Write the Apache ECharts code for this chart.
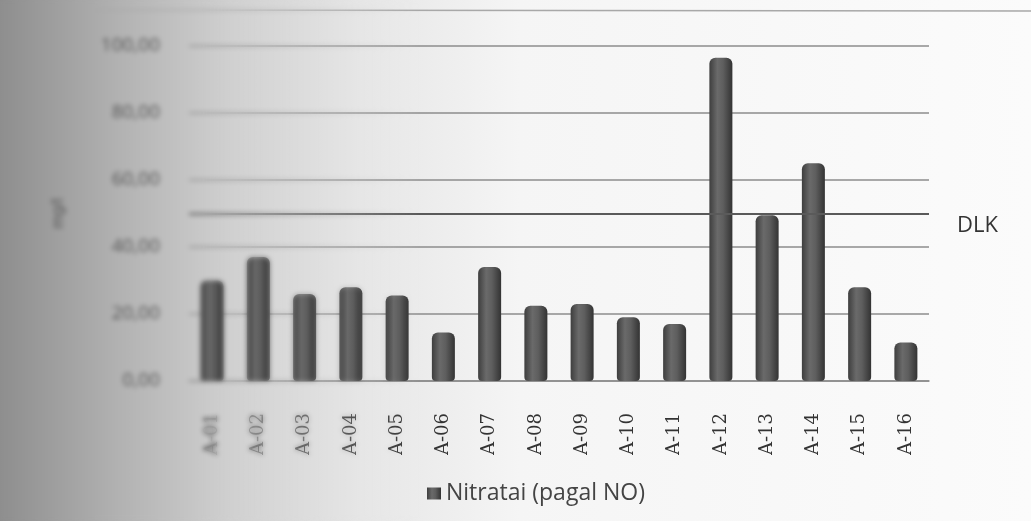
<!DOCTYPE html>
<html>
<head>
<meta charset="utf-8">
<script src="https://cdn.jsdelivr.net/npm/echarts@6/dist/echarts.min.js"></script>
<style>
  html, body { margin: 0; padding: 0; width: 1031px; height: 521px; overflow: hidden; }
  body { background: linear-gradient(to right, #8e8e8e 0px, #b2b2b2 120px, #d0d0d0 230px, #e6e6e6 360px, #f5f5f5 520px, #fbfbfb 1031px); }
  #chart { position: absolute; left: 0; top: 0; width: 1031px; height: 521px; }
  /* soft focus toward the left edge of the sheet */
  #soft {
    position: absolute; left: 0; top: 0; width: 420px; height: 521px; pointer-events: none;
    backdrop-filter: blur(2.6px); -webkit-backdrop-filter: blur(2.6px);
    -webkit-mask-image: linear-gradient(to right, #000 0px, #000 200px, rgba(0,0,0,0.5) 300px, transparent 420px);
    mask-image: linear-gradient(to right, #000 0px, #000 200px, rgba(0,0,0,0.5) 300px, transparent 420px);
  }
</style>
</head>
<body>
<div id="chart"></div>
<div id="soft"></div>
<script>
// Sampling points
const categories = ['A-01','A-02','A-03','A-04','A-05','A-06','A-07','A-08','A-09','A-10','A-11','A-12','A-13','A-14','A-15','A-16'];
// Nitrate concentration, mg/l
const nitrates = [30, 37, 26, 28, 25.5, 14.5, 34, 22.5, 23, 19, 17, 96.5, 49.5, 65, 28, 11.5];
// Maximum allowed concentration (DLK)
const dlkLimit = [50];
// Value axis tick labels
const yTicks = ['0,00', '20,00', '40,00', '60,00', '80,00', '100,00'];
const seriesName = 'Nitratai (pagal NO)';
const yName = 'mg/l';

const chart = echarts.init(document.getElementById('chart'), null, { renderer: 'canvas' });

const cylinder = new echarts.graphic.LinearGradient(0, 0, 1, 0, [
  { offset: 0, color: '#3e3e3e' },
  { offset: 0.35, color: '#6a6a6a' },
  { offset: 0.6, color: '#5e5e5e' },
  { offset: 1, color: '#333333' }
]);

const sans = 'Open Sans, Lato, sans-serif';

chart.setOption({
  backgroundColor: 'transparent',
  animation: false,
  // outer frame edge along the top of the sheet
  graphic: [{
    type: 'line', silent: true,
    shape: { x1: 90, y1: 10, x2: 1031, y2: 11 },
    style: { stroke: '#a8a8a8', lineWidth: 1.5 }
  }],
  grid: { left: 189, right: 102, top: 46, bottom: 140 },
  legend: {
    data: [seriesName],
    left: 422, top: 477,
    itemWidth: 14, itemHeight: 12, itemGap: 6,
    icon: 'rect',
    textStyle: { color: '#444', fontSize: 23, fontFamily: sans }
  },
  xAxis: {
    type: 'category',
    data: categories,
    axisTick: { show: false },
    axisLine: { show: true, lineStyle: { color: '#8a8a8a', width: 1.5 } },
    axisLabel: {
      rotate: 90, margin: 32, color: '#333', fontSize: 18,
      fontFamily: 'DejaVu Serif, Liberation Serif, serif'
    }
  },
  yAxis: {
    type: 'value',
    min: 0, max: 100, interval: 20,
    name: yName,
    nameLocation: 'middle', nameRotate: 90, nameGap: 122,
    nameTextStyle: { color: '#555', fontSize: 16 },
    axisLine: { show: false },
    axisTick: { show: false },
    axisLabel: {
      margin: 29, color: '#555', fontSize: 19, fontFamily: sans,
      formatter: (v) => yTicks[Math.round(v / 20)]
    },
    splitLine: { lineStyle: { color: '#8c8c8c', width: 1.5 } }
  },
  series: [{
    name: seriesName,
    type: 'bar',
    data: nitrates,
    barWidth: 23,
    itemStyle: { color: cylinder, borderRadius: [6, 6, 4, 4] },
    markLine: {
      symbol: 'none',
      silent: true,
      data: [{ yAxis: dlkLimit[0] }],
      lineStyle: { color: '#5a5a5a', width: 2.2, type: 'solid' },
      label: {
        position: 'end', formatter: 'DLK', distance: 28,
        color: '#333', fontSize: 22, offset: [0, 12],
        fontFamily: sans
      }
    }
  }]
});
</script>
</body>
</html>
